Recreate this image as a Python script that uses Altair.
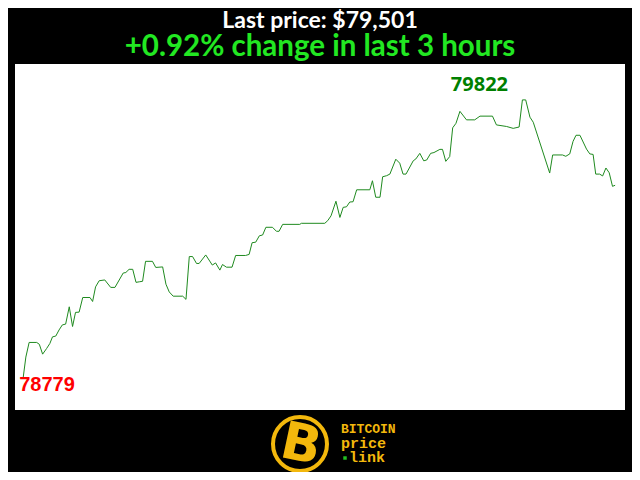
import altair as alt
import pandas as pd

# minutes since start of the 3-hour window
minutes = [0, 0.8, 1.8, 4.1, 4.9, 5.9, 7.1, 8.1, 8.9, 9.9, 10.9, 11.9, 12.9, 14.0, 15.0,
           15.9, 17.0, 18.1, 20.3, 21.1, 22.0, 23.1, 24.8, 26.6, 27.9, 30.4, 31.2, 32.2,
           33.3, 34.3, 35.3, 36.3, 37.2, 39.3, 40.3, 42.4, 43.4, 44.4, 45.6, 48.5, 49.5,
           50.5, 51.5, 52.7, 53.5, 55.5, 57.5, 58.5, 59.8, 60.6, 61.8, 63.5, 64.6, 67.6,
           68.7, 69.6, 70.7, 71.8, 72.8, 73.8, 75.8, 77.0, 77.8, 78.9, 84.1, 84.6, 91.7,
           92.6, 93.6, 95.1, 96.3, 97.3, 98.3, 99.3, 100.3, 101.4, 105.4, 106.2, 107.2,
           108.5, 109.3, 110.5, 111.5, 113.3, 114.5, 115.5, 116.4, 118.6, 119.4, 120.6,
           121.8, 122.7, 123.9, 124.9, 126.7, 127.5, 128.5, 129.7, 130.6, 131.6, 132.8,
           134.8, 137.3, 138.9, 142.7, 143.9, 147.0, 149.0, 150.8, 151.8, 152.8, 154.1,
           155.1, 160.1, 161.0, 164.0, 165.0, 166.2, 167.2, 168.1, 169.3, 171.3, 172.3,
           173.3, 174.1, 175.3, 176.2, 177.2, 178.2, 179.2, 180.0]
prices = [78779, 78855, 78910, 78910, 78903, 78866, 78887, 78906, 78931, 78934, 78957,
          78976, 78979, 79044, 78970, 79023, 79024, 79079, 79079, 79064, 79119, 79142,
          79145, 79117, 79117, 79171, 79173, 79185, 79185, 79136, 79138, 79140, 79215,
          79215, 79192, 79194, 79129, 79100, 79084, 79084, 79072, 79233, 79233, 79207,
          79207, 79239, 79201, 79209, 79182, 79203, 79193, 79193, 79237, 79237, 79241,
          79285, 79287, 79311, 79314, 79343, 79343, 79328, 79328, 79354, 79354, 79358,
          79358, 79368, 79386, 79441, 79380, 79418, 79420, 79438, 79439, 79484, 79484,
          79518, 79456, 79456, 79533, 79537, 79543, 79599, 79584, 79543, 79543, 79593,
          79600, 79621, 79593, 79596, 79621, 79624, 79636, 79636, 79591, 79609, 79717,
          79734, 79779, 79747, 79747, 79761, 79761, 79728, 79722, 79715, 79720, 79822,
          79822, 79757, 79738, 79547, 79615, 79615, 79610, 79619, 79666, 79689, 79689,
          79637, 79619, 79617, 79543, 79543, 79536, 79566, 79548, 79497, 79501]

title_text = "Last price: $79,501"
subtitle_text = "+0.92% change in last 3 hours"
logo_lines = ["BITCOIN", "price", "link"]

df = pd.DataFrame({"t": minutes, "p": prices})
imax = prices.index(max(prices))
imin = prices.index(min(prices))
hi = pd.DataFrame({"t": [minutes[imax]], "p": [prices[imax]], "label": [str(prices[imax])]})
lo = pd.DataFrame({"t": [minutes[imin]], "p": [prices[imin]], "label": [str(prices[imin])]})

xs = alt.Scale(domain=[-2.5, 183.0], nice=False, zero=False)
ys = alt.Scale(domain=[78656, 79957], nice=False, zero=False)
X = alt.X("t:Q", scale=xs, axis=None)
Y = alt.Y("p:Q", scale=ys, axis=None)

line = alt.Chart(df).mark_line(color="#1f8a1f", strokeWidth=1).encode(x=X, y=Y)

hi_t = alt.Chart(hi).mark_text(font="Noto Sans", fontSize=20, fontWeight="bold",
                               color="#008000", dx=-43, dy=-9, baseline="alphabetic",
                               align="center").encode(x=X, y=Y, text="label:N")
lo_t = alt.Chart(lo).mark_text(font="Liberation Sans", fontSize=20, fontWeight="bold",
                               color="#ff0000", dx=-4, dy=14, baseline="alphabetic",
                               align="left").encode(x=X, y=Y, text="label:N")

gold = "#f3b80c"
one = pd.DataFrame({"k": [0]})
ring = alt.Chart(one).mark_point(shape="circle", size=2916, filled=False, color=gold,
                                 strokeWidth=4, opacity=1).encode(
    x=alt.value(285), y=alt.value(380))
bigb = alt.Chart(one).mark_text(text="B", font="DejaVu Sans", fontSize=52, fontWeight="bold",
                                color=gold, angle=12, baseline="middle", align="center").encode(
    x=alt.value(286), y=alt.value(381))
l1 = alt.Chart(one).mark_text(text=logo_lines[0], font="Liberation Mono", fontSize=13,
                              fontWeight="bold", color=gold, align="left",
                              baseline="middle").encode(x=alt.value(326), y=alt.value(365))
l2 = alt.Chart(one).mark_text(text=logo_lines[1], font="Liberation Mono", fontSize=15,
                              fontWeight="bold", color=gold, align="left",
                              baseline="middle").encode(x=alt.value(326), y=alt.value(379))
l3 = alt.Chart(one).mark_text(text=logo_lines[2], font="Liberation Mono", fontSize=15,
                              fontWeight="bold", color=gold, align="left",
                              baseline="middle").encode(x=alt.value(334), y=alt.value(393))
dot = alt.Chart(one).mark_square(size=12, color="#22c022", opacity=1).encode(
    x=alt.value(330), y=alt.value(394))

chart = alt.layer(line, hi_t, lo_t, ring, bigb, l1, l2, l3, dot).properties(
    width=610, height=346,
    autosize=alt.AutoSizeParams(type="none"),
    padding={"left": 7, "top": 56, "right": 7, "bottom": 62},
    background="black",
    title=alt.Title(text=title_text, subtitle=subtitle_text, font="Lato", fontSize=23,
                    fontWeight="bold", color="white", subtitleFont="Lato",
                    subtitleFontSize=29.5, subtitleFontWeight="bold",
                    subtitleColor="#22e822", anchor="middle", offset=3,
                    subtitlePadding=0),
).configure_view(fill="white", strokeWidth=0)

chart.save("out.html", embed_options={"renderer": "svg", "actions": False})
